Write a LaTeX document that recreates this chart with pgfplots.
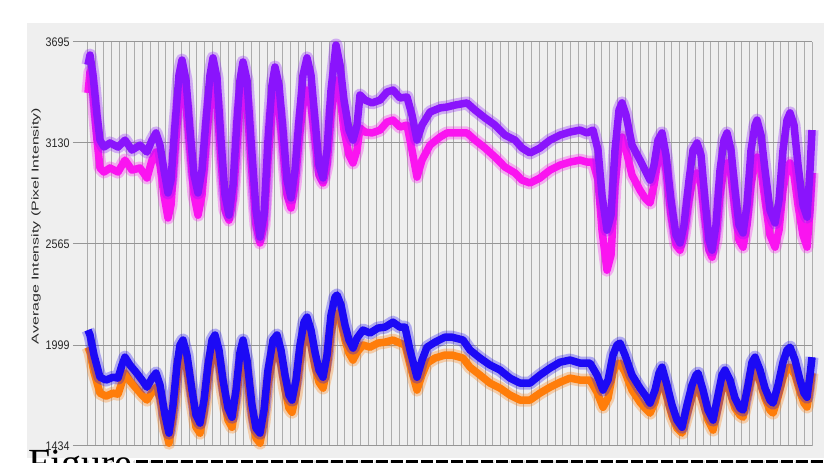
\documentclass[border=0pt]{standalone}
\usepackage{pgfplots}
\usepackage{pgfplotstable}
\pgfplotsset{compat=1.18}
\usepackage{fontspec}
\setmainfont{Liberation Sans}
\newfontfamily\seriffont{Liberation Serif}
\usepackage{graphicx}
\definecolor{cpurple}{RGB}{138,20,252}
\definecolor{cmagenta}{RGB}{250,20,240}
\definecolor{cblue}{RGB}{28,10,245}
\definecolor{corange}{RGB}{255,125,10}
\definecolor{panel}{RGB}{239,239,239}
\definecolor{gridv}{RGB}{172,172,172}
\definecolor{gridh}{RGB}{150,150,150}
\definecolor{labelc}{RGB}{40,40,40}

\pgfplotstableread{
x y
88 3567
90 3622
93 3510
97 3286
100 3146
104 3107
110 3130
118 3107
125 3146
132 3090
140 3118
147 3079
152 3146
156 3186
160 3118
164 2978
168 2850
171 2922
175 3230
179 3510
182 3594
186 3482
190 3202
194 2950
198 2850
202 2978
206 3258
210 3510
213 3606
217 3494
221 3146
225 2838
229 2726
233 2894
237 3258
240 3482
243 3583
247 3482
251 3146
256 2754
260 2603
264 2726
268 3146
272 3454
275 3555
279 3454
283 3202
287 2922
291 2822
295 2978
299 3258
303 3510
307 3606
311 3510
315 3258
319 3006
323 2934
327 3090
331 3426
336 3678
340 3567
344 3370
349 3202
353 3146
357 3230
360 3398
365 3370
372 3354
380 3370
387 3415
393 3426
400 3382
407 3387
412 3286
417 3146
422 3230
430 3303
440 3326
447 3331
455 3342
467 3354
475 3314
485 3270
495 3230
505 3174
515 3146
522 3102
530 3074
540 3102
550 3146
560 3174
570 3191
580 3202
587 3186
593 3202
598 3090
602 2838
607 2642
611 2726
615 3090
619 3314
622 3354
626 3286
632 3118
640 3034
645 2978
650 2922
654 3006
658 3146
662 3186
666 3062
671 2810
676 2614
680 2570
684 2670
689 2922
693 3090
697 3130
701 3062
705 2810
709 2586
712 2530
716 2670
720 2978
724 3146
727 3186
731 3090
735 2866
739 2670
743 2626
747 2782
751 3090
755 3230
757 3258
761 3174
765 2978
770 2754
775 2682
779 2810
783 3090
787 3258
790 3298
794 3230
798 3006
803 2782
807 2715
810 2978
812 3202
}\purpledata

\pgfplotstableread{
x y
88 3410
90 3527
93 3398
97 3146
100 2990
104 2967
110 2990
118 2967
125 3034
132 2978
140 2990
147 2934
152 3034
156 3079
160 3006
164 2838
168 2710
171 2782
175 3090
179 3370
182 3443
186 3342
190 3090
194 2838
198 2726
202 2838
206 3118
210 3370
213 3454
217 3342
221 3034
225 2754
229 2698
233 2810
237 3118
240 3342
243 3438
247 3342
251 3034
256 2670
260 2570
264 2670
268 3034
272 3314
275 3398
279 3314
283 3090
287 2838
291 2766
295 2894
299 3146
303 3342
307 3426
311 3342
315 3146
319 2950
323 2906
327 3006
331 3286
336 3482
340 3398
344 3202
349 3062
353 3018
357 3090
360 3214
365 3191
372 3186
380 3202
387 3247
393 3258
400 3219
407 3230
412 3090
417 2939
422 3034
430 3118
440 3163
447 3186
455 3186
467 3186
475 3146
485 3102
495 3051
505 2995
515 2962
522 2922
530 2906
540 2934
550 2978
560 3006
570 3023
580 3034
587 3023
593 3023
598 2922
602 2642
607 2418
611 2502
615 2894
619 3118
622 3163
626 3090
632 2950
640 2866
645 2822
650 2794
654 2894
658 3034
662 3090
666 2978
671 2726
676 2558
680 2530
684 2614
689 2810
693 2934
697 2962
701 2894
705 2698
709 2530
712 2491
716 2586
720 2838
724 2990
727 3018
731 2950
735 2754
739 2586
743 2547
747 2670
751 2894
755 3023
757 3051
761 2978
765 2810
770 2614
775 2547
779 2642
783 2866
787 2990
790 3018
794 2950
798 2782
803 2614
807 2547
810 2754
812 2962
}\magentadata

\pgfplotstableread{
x y
88 2083
90 2055
94 1943
100 1819
106 1803
113 1819
118 1814
122 1887
125 1931
130 1887
136 1847
142 1803
147 1763
152 1814
156 1842
160 1775
165 1607
169 1506
173 1663
177 1887
180 1999
183 2027
187 1943
192 1747
196 1607
200 1562
204 1691
208 1887
212 2027
215 2055
219 1971
223 1803
228 1646
232 1595
236 1747
240 1959
243 2027
247 1915
252 1663
256 1534
260 1506
264 1635
268 1859
273 2027
277 2055
281 1971
285 1831
289 1719
292 1691
296 1803
300 1999
304 2127
307 2155
311 2083
315 1959
319 1859
323 1819
327 1943
331 2167
335 2267
337 2279
341 2223
345 2111
349 2027
353 1982
357 2038
363 2083
370 2066
378 2094
385 2099
393 2127
400 2099
405 2099
410 1971
417 1819
422 1915
427 1987
435 2015
445 2043
452 2043
463 2027
470 1971
480 1926
490 1887
500 1859
510 1814
520 1786
530 1786
540 1831
550 1870
560 1903
570 1915
580 1898
590 1898
597 1831
603 1747
608 1803
613 1943
617 1999
620 2010
625 1943
632 1831
640 1758
645 1719
650 1674
655 1747
659 1842
662 1875
667 1775
672 1663
677 1579
682 1539
687 1663
692 1775
696 1831
698 1842
703 1747
708 1635
713 1579
718 1719
722 1831
725 1859
730 1803
735 1702
740 1646
743 1635
748 1775
752 1903
755 1931
760 1859
765 1758
770 1691
773 1674
778 1775
783 1903
787 1971
790 1987
795 1915
800 1803
804 1730
807 1707
810 1831
812 1931
}\bluedata

\pgfplotstableread{
x y
88 1987
90 1959
94 1847
100 1730
106 1713
113 1730
118 1724
122 1791
125 1842
130 1797
136 1758
142 1719
147 1691
152 1735
156 1763
160 1702
165 1534
169 1450
173 1590
177 1803
180 1915
183 1931
187 1859
192 1674
196 1539
200 1506
204 1618
208 1803
212 1943
215 1971
219 1887
223 1724
228 1579
232 1539
236 1674
240 1870
243 1943
247 1831
252 1590
256 1478
260 1450
264 1567
268 1775
273 1943
277 1971
281 1887
285 1747
289 1646
292 1623
296 1719
300 1903
304 2038
307 2066
311 1999
315 1875
319 1791
323 1758
327 1859
331 2066
335 2167
337 2178
341 2127
345 2027
349 1954
353 1915
357 1959
363 1999
370 1987
378 2010
385 2015
393 2027
400 2010
405 1999
410 1887
417 1747
422 1831
427 1898
435 1926
445 1943
452 1943
463 1926
470 1875
480 1831
490 1786
500 1758
510 1719
520 1691
530 1691
540 1730
550 1763
560 1791
570 1814
580 1803
590 1803
597 1735
603 1651
608 1702
613 1847
617 1892
620 1898
625 1847
632 1747
640 1679
645 1646
650 1618
655 1679
659 1769
662 1803
667 1702
672 1601
677 1534
682 1506
687 1607
692 1707
696 1758
698 1763
703 1679
708 1579
713 1523
718 1646
722 1758
725 1786
730 1735
735 1646
740 1607
743 1595
748 1719
752 1831
755 1859
760 1791
765 1702
770 1635
773 1618
778 1707
783 1814
787 1870
790 1875
795 1831
800 1735
804 1674
807 1652
810 1747
812 1842
}\orangedata

\begin{document}
\begin{tikzpicture}[x=1bp,y=1bp]
\useasboundingbox (-88,-17) rectangle (736,446);
\fill[panel] (-61,-12) rectangle (736,423);
\begin{axis}[
  at={(0,0)}, anchor=south west,
  width=724bp, height=404bp, scale only axis,
  xmin=88, xmax=812, ymin=1434, ymax=3695,
  clip=false,
  axis line style={draw=none},
  xtick={88,95.785,...,813},
  xticklabel={\pgfmathparse{int(round((\tick-88)/7.785))}\pgfmathresult},
  xticklabel style={font=\fontsize{3.5}{4}\selectfont, text=gray!80, inner sep=1pt, yshift=1bp},
  xmajorgrids,
  major x grid style={gridv, line width=1bp},
  xtick style={draw=none},
  ytick={1434,1999,2565,3130,3695},
  yticklabels={\scalebox{0.86}[1]{1434},\scalebox{0.86}[1]{1999},\scalebox{0.86}[1]{2565},\scalebox{0.86}[1]{3130},\scalebox{0.86}[1]{3695}},
  minor y tick num=5,
  ymajorgrids,
  major y grid style={gridh, line width=1bp},
  ytick pos=left, tick align=outside,
  major tick length=15bp, minor tick length=7bp,
  ytick style={gridh, line width=1bp},
  yticklabel style={font=\fontsize{12.5}{12.5}\selectfont, text=labelc},
]
\addplot[cmagenta, line width=13bp, opacity=0.3, line join=round] table {\magentadata};
\addplot[cmagenta, line width=7.5bp, line join=round] table {\magentadata};
\addplot[cpurple, line width=13bp, opacity=0.3, line join=round] table {\purpledata};
\addplot[cpurple, line width=7.5bp, line join=round] table {\purpledata};
\addplot[corange, line width=13bp, opacity=0.3, line join=round] table {\orangedata};
\addplot[corange, line width=7.5bp, line join=round] table {\orangedata};
\addplot[cblue, line width=13bp, opacity=0.3, line join=round] table {\bluedata};
\addplot[cblue, line width=7.5bp, line join=round] table {\bluedata};
\end{axis}
\node[rotate=90, text=labelc] at (-52,220) {\scalebox{1.6}[1]{\fontsize{10}{12}\selectfont Average Intensity (Pixel Intensity)}};
\node[anchor=base west, inner sep=0pt] at (-60,-30.5) {\seriffont\fontsize{40}{40}\selectfont Figure};
\draw[black, line width=2.5bp, dash pattern=on 12bp off 3bp] (48,-15.75) -- (736,-15.75);
\end{tikzpicture}
\end{document}
